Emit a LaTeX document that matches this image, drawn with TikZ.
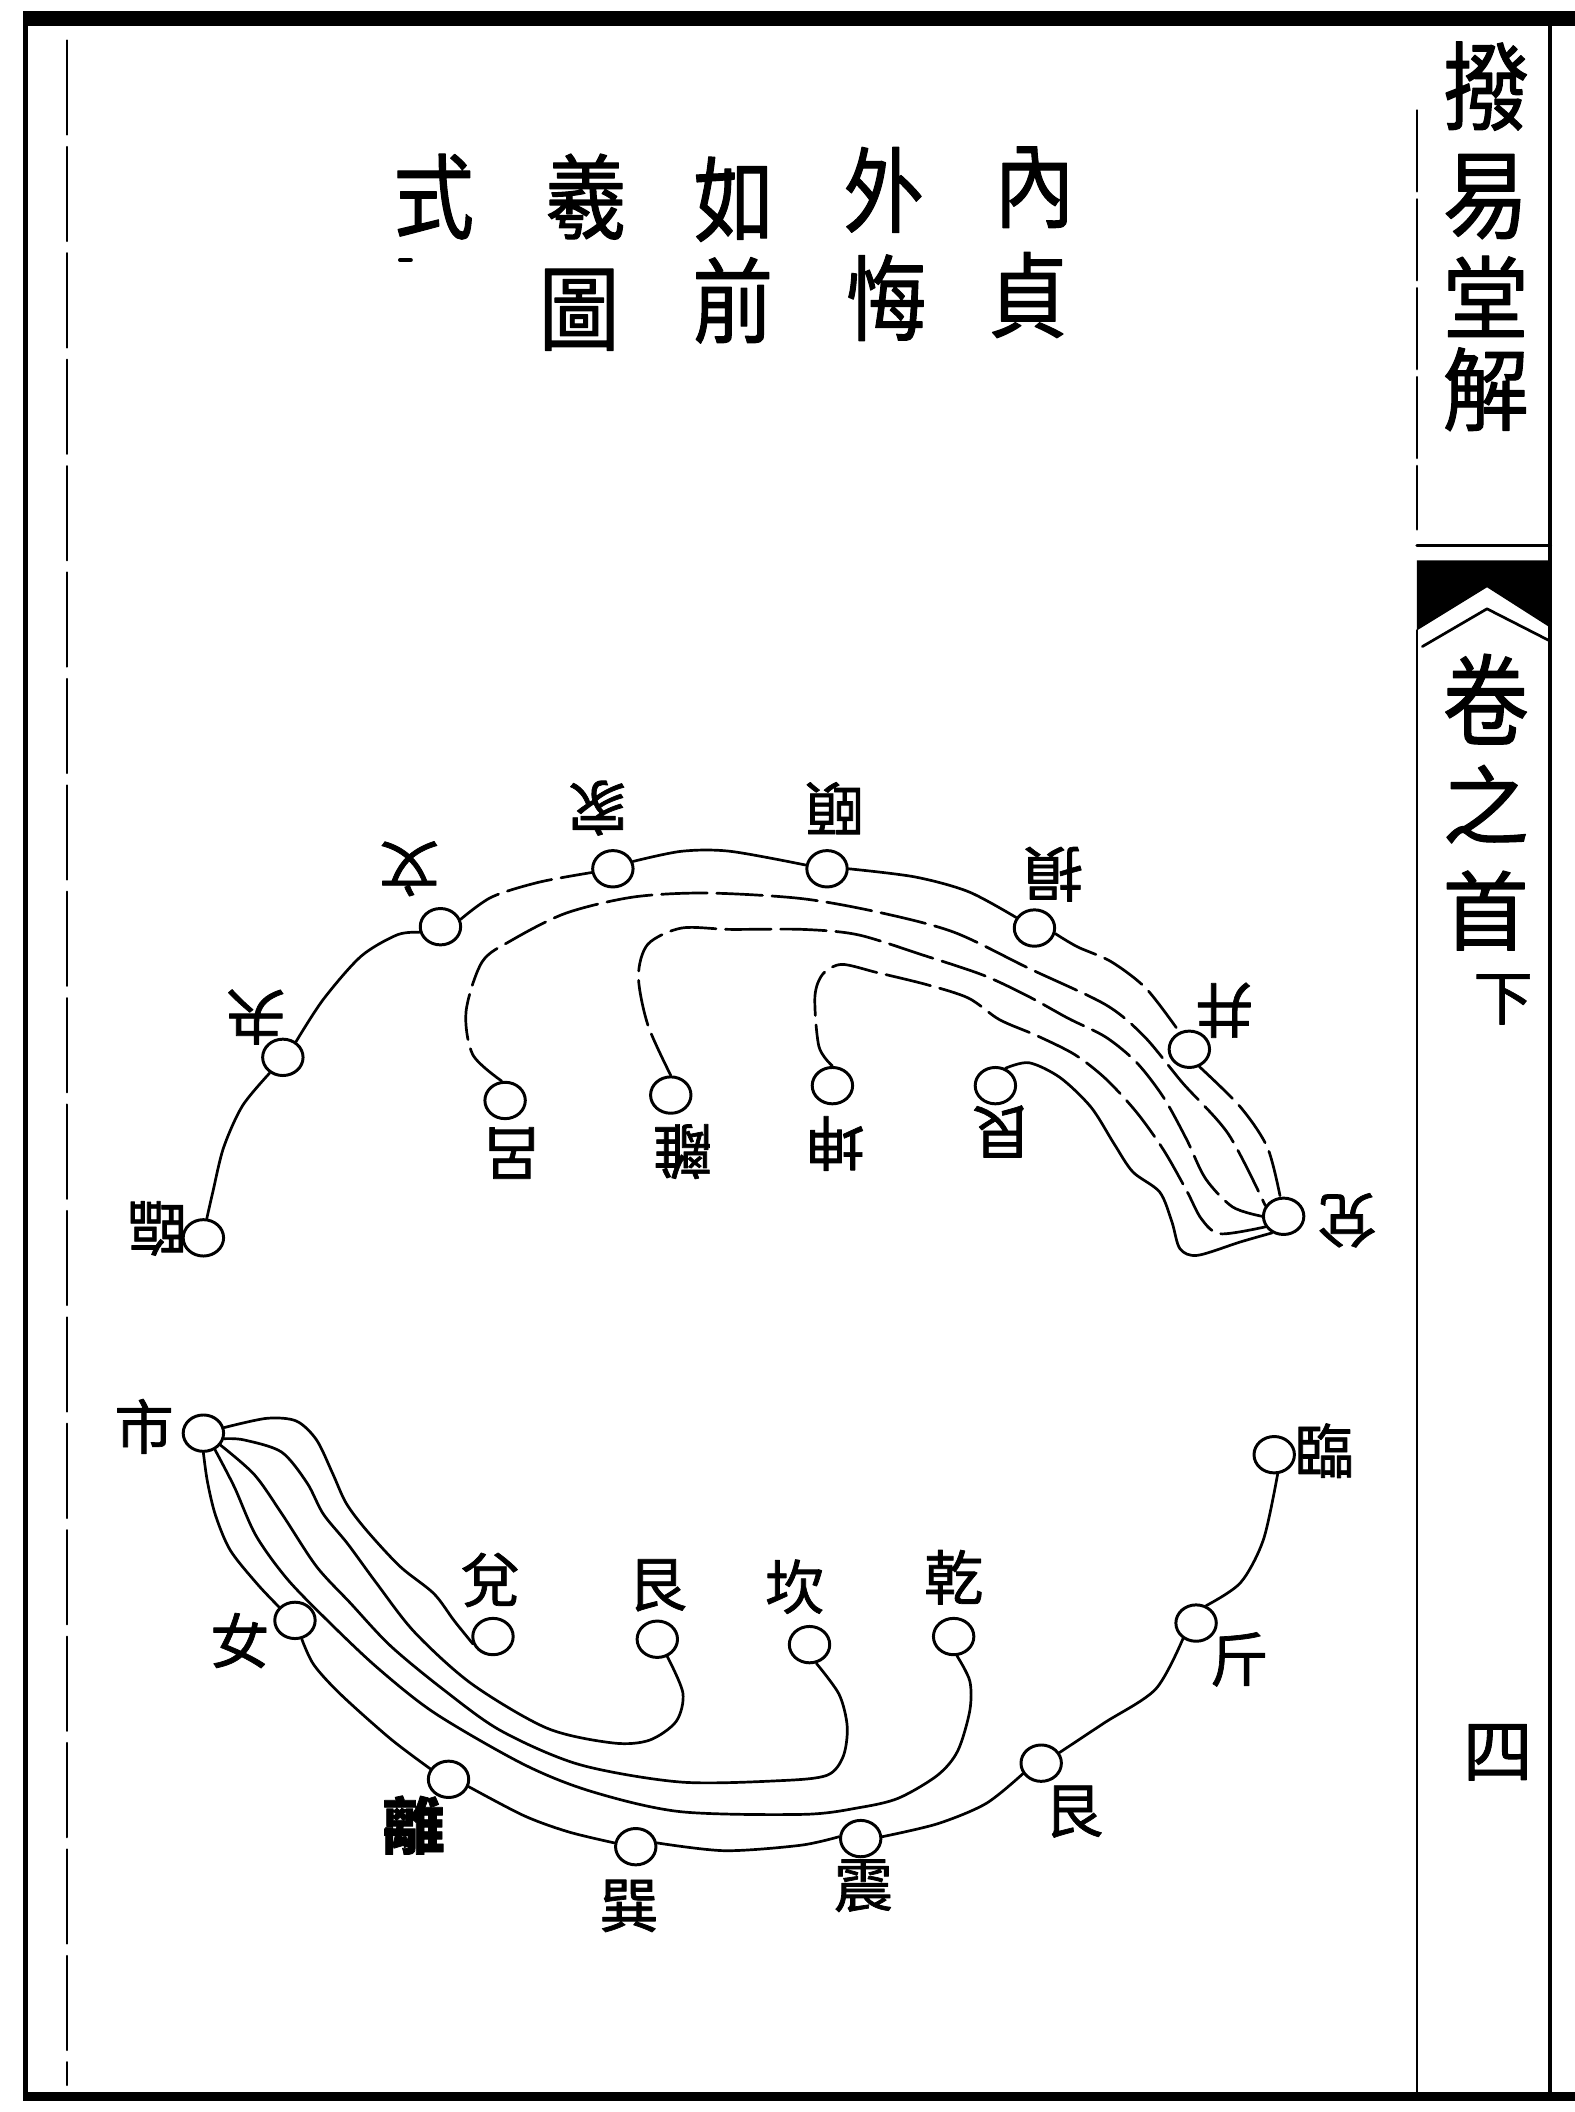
\documentclass[tikz,border=0pt]{standalone}
\usepackage{fontspec}
\usepackage{graphicx}
\newfontfamily\cjk[FakeBold=1.2]{Noto Sans CJK TC}
\usetikzlibrary{shapes.geometric}
\begin{document}
\begin{tikzpicture}[x=1pt,y=-1pt,line cap=round,line join=round,
  ring/.style={draw,ellipse,minimum width=30pt,minimum height=27pt,inner sep=0pt,line width=2.2pt},
  lbl/.style={font=\cjk\fontsize{44}{44}\selectfont,inner sep=0pt},
  ulbl/.style={lbl,rotate=180},
  big/.style={font=\cjk\fontsize{60}{60}\selectfont,inner sep=0pt},
  colch/.style={font=\cjk\fontsize{64}{64}\selectfont,inner sep=0pt},
  strand/.style={line width=2pt},
  broken/.style={line width=2pt,dash pattern=on 34pt off 7pt},
  frame/.style={line width=2pt}]
\fill[white] (0,0) rectangle (1169,1568);
\useasboundingbox (0,0) rectangle (1169,1568);

% ---------- page frame ----------
\fill (17,8) rectangle (1169,19);
\fill (17,8) rectangle (21,1560);
\fill (17,1553) rectangle (1169,1560);
\draw[line width=1.5pt,dash pattern=on 70pt off 9pt] (50,30) -- (50,1548);
\draw[line width=3pt] (1151,19) -- (1151,1553);
\draw[frame,dash pattern=on 60pt off 6pt] (1052,82) -- (1052,393);
\draw[frame] (1052,468) -- (1052,1553);
\draw[line width=2.5pt] (1052,405) -- (1151,405);
\fill (1052,416) -- (1151,416) -- (1151,466) -- (1104,436) -- (1052,468) -- cycle;
\draw[line width=2pt] (1056,480) -- (1104,452) -- (1151,476);

% ---------- side column text ----------
\node[colch] (c1) at (1103,64) {\scalebox{1}[1.12]{撥}};
\node[colch] (c2) at (1103,146) {\scalebox{1}[1.12]{易}};
\node[colch] (c3) at (1103,220) {\scalebox{1}[1.05]{堂}};
\node[colch] (c4) at (1103,289) {\scalebox{1}[1.05]{解}};
\node[colch] (c5) at (1103,519) {\scalebox{1}[1.15]{卷}};
\node[colch] (c6) at (1103,597) {之};
\node[colch] (c7) at (1103,676) {首};
\node[lbl] (c8) at (1116,742) {下};
\node[font=\cjk\fontsize{52}{52}\selectfont,inner sep=0pt] (c9) at (1112,1301) {四};

% ---------- title ----------
\node[big] (h1) at (768,139) {\scalebox{1}[1.15]{內}};
\node[big] (h2) at (763,219) {\scalebox{1}[1.15]{貞}};
\node[big] (h3) at (656,141) {\scalebox{1}[1.15]{外}};
\node[big] (h4) at (658,221) {\scalebox{1}[1.15]{悔}};
\node[big] (h5) at (545,148) {\scalebox{1}[1.15]{如}};
\node[big] (h6) at (544,223) {\scalebox{1}[1.15]{前}};
\node[big] (h7) at (435,146) {\scalebox{1}[1.15]{羲}};
\node[big] (h8) at (430,230) {\scalebox{1}[1.15]{圖}};
\node[big] (h9) at (322,146) {\scalebox{1}[1.15]{式}};
\draw[line width=3pt] (297,193) -- (305,193);

% ---------- upper figure (inverted) ----------
\node[ring] (T1) at (151,919) {};
\node[ring] (T2) at (210,785) {};
\node[ring] (T3) at (327,688) {};
\node[ring] (T4) at (455,645) {};
\node[ring] (T5) at (614,645) {};
\node[ring] (T6) at (768,689) {};
\node[ring] (T7) at (883,779) {};
\node[ring] (T8) at (953,903) {};
\node[ring] (T9) at (375,817) {};
\node[ring] (T10) at (498,813) {};
\node[ring] (T11) at (618,806) {};
\node[ring] (T12) at (739,806) {};

\node[ulbl] (t1) at (117,912) {臨};
\node[ulbl] (t2) at (190,755) {夬};
\node[ulbl] (t3) at (304,645) {文};
\node[ulbl] (t4) at (444,600) {家};
\node[ulbl] (t5) at (620,600) {頤};
\node[ulbl] (t6) at (782,649) {損};
\node[ulbl] (t7) at (909,750) {井};
\node[ulbl] (t8) at (1000,906) {兌};
\node[ulbl] (t9) at (380,856) {呂};
\node[ulbl] (t10) at (507,855) {離};
\node[ulbl] (t11) at (620,849) {坤};
\node[ulbl] (t12) at (744,840) {艮};

\draw[strand] plot[smooth] coordinates {(T1.80) (158,885) (166,852) (180,821) (T2.230)};
\draw[strand] plot[smooth] coordinates {(T2.50) (240,742) (268,710) (295,694) (T3.195)};
\draw[broken] plot[smooth] coordinates {(T3.20) (365,666) (400,655) (T4.190)};
\draw[strand] plot[smooth] coordinates {(T4.20) (506,632) (542,632) (T5.170)};
\draw[strand] plot[smooth] coordinates {(T5.0) (679,651) (719,662) (T6.150)};
\draw[broken] plot[smooth] coordinates {(T6.-15) (800,703) (825,714) (851,734) (T7.120)};
\draw[broken] plot[smooth] coordinates {(T7.-60) (921,822) (941,852) (T8.100)};

\draw[broken] plot[smooth] coordinates {(T9.100) (351,783) (346,751) (358,714) (380,698) (420,678) (470,666) (524,663) (594,667) (651,677) (708,692) (764,719) (821,746) (850,770) (878,804) (912,842) (T8.150)};
\draw[broken] plot[smooth] coordinates {(T10.north) (481,761) (474,725) (481,701) (506,689) (542,690) (596,690) (637,694) (685,709) (730,724) (764,740) (793,756) (821,770) (844,789) (864,815) (881,846) (895,875) (915,896) (T8.180)};
\draw[broken] plot[smooth] coordinates {(T11.north) (608,777) (605,740) (611,723) (625,716) (651,722) (688,731) (719,741) (742,757) (770,769) (798,783) (821,801) (844,826) (864,854) (881,884) (892,905) (906,916) (T8.210)};
\draw[strand] plot[smooth] coordinates {(T12.60) (764,789) (787,800) (810,822) (827,849) (841,870) (861,885) (870,907) (876,927) (889,932) (921,922) (T8.235)};

% ---------- lower figure ----------
\node[ring] (B1) at (151,1064) {};
\node[ring] (B2) at (219,1203) {};
\node[ring] (B3) at (333,1321) {};
\node[ring] (B4) at (472,1371) {};
\node[ring] (B5) at (639,1365) {};
\node[ring] (B6) at (773,1309) {};
\node[ring] (B7) at (888,1205) {};
\node[ring] (B8) at (946,1080) {};
\node[ring] (B9) at (366,1215) {};
\node[ring] (B10) at (488,1217) {};
\node[ring] (B11) at (601,1221) {};
\node[ring] (B12) at (708,1215) {};

\node[lbl] (b1) at (107,1059) {市};
\node[lbl] (b2) at (178,1218) {女};
\node[lbl,font=\cjk\bfseries\fontsize{46}{46}\selectfont] (b3) at (307,1355) {離};
\node[lbl] (b4) at (467,1415) {巽};
\node[lbl] (b5) at (641,1400) {震};
\node[lbl] (b6) at (797,1345) {艮};
\node[lbl] (b7) at (920,1232) {斤};
\node[lbl] (b8) at (983,1077) {臨};
\node[lbl] (b9) at (364,1173) {兌};
\node[lbl] (b10) at (488,1177) {艮};
\node[lbl] (b11) at (590,1178) {坎};
\node[lbl] (b12) at (708,1171) {乾};

\draw[strand] plot[smooth] coordinates {(B1.-90) (154,1100) (160,1125) (171,1151) (191,1176) (B2.140)};
\draw[strand] plot[smooth] coordinates {(B2.-70) (233,1236) (253,1258) (290,1291) (B3.150)};
\draw[strand] plot[smooth] coordinates {(B3.-20) (389,1348) (422,1360) (B4.170)};
\draw[strand] plot[smooth] coordinates {(B4.10) (538,1374) (594,1370) (B5.175)};
\draw[strand] plot[smooth] coordinates {(B5.5) (696,1354) (732,1339) (B6.210)};
\draw[strand] plot[smooth] coordinates {(B6.30) (820,1279) (858,1254) (B7.230)};
\draw[strand] plot[smooth] coordinates {(B7.60) (921,1175) (938,1143) (B8.-80)};

\draw[strand] plot[smooth] coordinates {(B1.15) (198,1053) (220,1055) (235,1069) (247,1094) (257,1116) (272,1136) (297,1163) (322,1183) (337,1203) (B9.200)};
\draw[strand] plot[smooth] coordinates {(B1.-15) (181,1069) (209,1078) (228,1101) (240,1124) (258,1146) (280,1176) (308,1212) (350,1250) (406,1283) (455,1294) (482,1292) (502,1278) (507,1257) (B10.-60)};
\draw[strand] plot[smooth] coordinates {(B1.-35) (189,1095) (210,1125) (235,1163) (260,1190) (290,1222) (330,1255) (372,1285) (430,1310) (505,1323) (579,1322) (614,1318) (626,1304) (629,1282) (623,1258) (B11.-70)};
\draw[strand] plot[smooth] coordinates {(B1.-55) (174,1104) (190,1140) (213,1172) (243,1203) (280,1238) (323,1272) (389,1310) (439,1330) (505,1345) (597,1347) (638,1342) (667,1335) (696,1318) (711,1300) (720,1270) (720,1248) (B12.-80)};
\end{tikzpicture}
\end{document}
